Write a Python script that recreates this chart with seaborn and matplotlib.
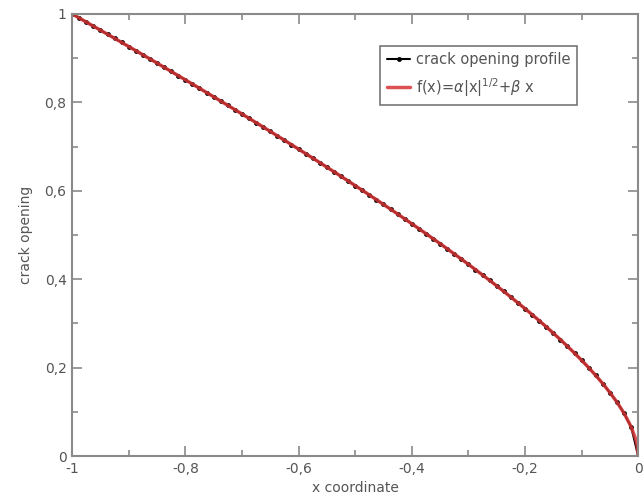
import numpy as np
import pandas as pd
import matplotlib
matplotlib.use("Agg")
import matplotlib.pyplot as plt
import seaborn as sns
from matplotlib.ticker import MultipleLocator, FuncFormatter

# crack opening profile, sampled points (x, opening)
x_profile = [-1.0, -0.9875, -0.975, -0.9625, -0.95, -0.9375, -0.925, -0.9125, -0.9, -0.8875,
             -0.875, -0.8625, -0.85, -0.8375, -0.825, -0.8125, -0.8, -0.7875, -0.775, -0.7625,
             -0.75, -0.7375, -0.725, -0.7125, -0.7, -0.6875, -0.675, -0.6625, -0.65, -0.6375,
             -0.625, -0.6125, -0.6, -0.5875, -0.575, -0.5625, -0.55, -0.5375, -0.525, -0.5125,
             -0.5, -0.4875, -0.475, -0.4625, -0.45, -0.4375, -0.425, -0.4125, -0.4, -0.3875,
             -0.375, -0.3625, -0.35, -0.3375, -0.325, -0.3125, -0.3, -0.2875, -0.275, -0.2625,
             -0.25, -0.2375, -0.225, -0.2125, -0.2, -0.1875, -0.175, -0.1625, -0.15, -0.1375,
             -0.125, -0.1125, -0.1, -0.0875, -0.075, -0.0625, -0.05, -0.0375, -0.025, -0.0125, 0.0]
y_profile = [1.000, 0.9909, 0.9817, 0.9725, 0.9633, 0.9541, 0.9449, 0.9356, 0.9263, 0.9170,
             0.9076, 0.8983, 0.8889, 0.8794, 0.8700, 0.8605, 0.8510, 0.8415, 0.8319, 0.8223,
             0.8127, 0.8030, 0.7933, 0.7836, 0.7738, 0.7640, 0.7542, 0.7443, 0.7344, 0.7244,
             0.7144, 0.7044, 0.6943, 0.6842, 0.6740, 0.6638, 0.6535, 0.6432, 0.6328, 0.6224,
             0.6118, 0.6013, 0.5907, 0.5800, 0.5692, 0.5585, 0.5475, 0.5366, 0.5255, 0.5144,
             0.5032, 0.4919, 0.4805, 0.4690, 0.4573, 0.4457, 0.4338, 0.4218, 0.4097, 0.3975,
             0.3850, 0.3725, 0.3596, 0.3467, 0.3335, 0.3201, 0.3064, 0.2925, 0.2781, 0.2635,
             0.2484, 0.2329, 0.2168, 0.2000, 0.1824, 0.1638, 0.1437, 0.1219, 0.0969, 0.0662, 0.0]

# fitted curve f(x) = a|x|^(1/2) + b x, with a few extra points near the tip
x_fit = x_profile[:-1] + [-0.005, -0.002, 0.0]
y_fit = y_profile[:-1] + [0.0405, 0.0250, 0.0]

df_profile = pd.DataFrame({"x": x_profile, "y": y_profile})
df_fit = pd.DataFrame({"x": x_fit, "y": y_fit})

sns.set_style("ticks")
fig = plt.figure(figsize=(6.44, 4.99), dpi=100)
ax = fig.add_axes([0.112, 0.086, 0.879, 0.886])

sns.lineplot(data=df_profile, x="x", y="y", sort=False, ax=ax, color="black",
             marker="o", markersize=3.5, markeredgewidth=0, linewidth=1.5,
             label="crack opening profile")
sns.lineplot(data=df_fit, x="x", y="y", sort=False, ax=ax, color="#d63436",
             linewidth=2.5, alpha=0.85, label=r"f(x)=$\alpha$|x|$^{1/2}$+$\beta$ x")

ax.set_xlim(-1, 0)
ax.set_ylim(0, 1)

comma = FuncFormatter(lambda v, p: ("%g" % round(v, 2)).replace(".", ","))
ax.xaxis.set_major_locator(MultipleLocator(0.2))
ax.yaxis.set_major_locator(MultipleLocator(0.2))
ax.xaxis.set_minor_locator(MultipleLocator(0.1))
ax.yaxis.set_minor_locator(MultipleLocator(0.1))
ax.xaxis.set_major_formatter(comma)
ax.yaxis.set_major_formatter(comma)

grey = "#8a8a8a"
for s in ax.spines.values():
    s.set_color(grey)
    s.set_linewidth(1.5)
ax.tick_params(which="both", direction="in", top=True, right=True, color=grey,
               labelcolor="#555555", labelsize=10)
ax.tick_params(axis="x", which="major", pad=4)
ax.tick_params(axis="y", which="major", pad=4)
ax.tick_params(which="major", length=7, width=1.2)
ax.tick_params(which="minor", length=4, width=1.2)

ax.set_xlabel("x coordinate", fontsize=10, color="#555555", labelpad=4)
ax.set_ylabel("crack opening", fontsize=10, color="#555555", labelpad=8)

leg = ax.legend(loc="upper right", bbox_to_anchor=(0.905, 0.945), fancybox=False,
                frameon=True, fontsize=10.5, handlelength=1.6, borderpad=0.45,
                labelspacing=0.6, handletextpad=0.4)
leg.get_frame().set_edgecolor("#555555")
leg.get_frame().set_linewidth(1.2)
for t in leg.get_texts():
    t.set_color("#555555")

fig.savefig("out.png", dpi=100)
